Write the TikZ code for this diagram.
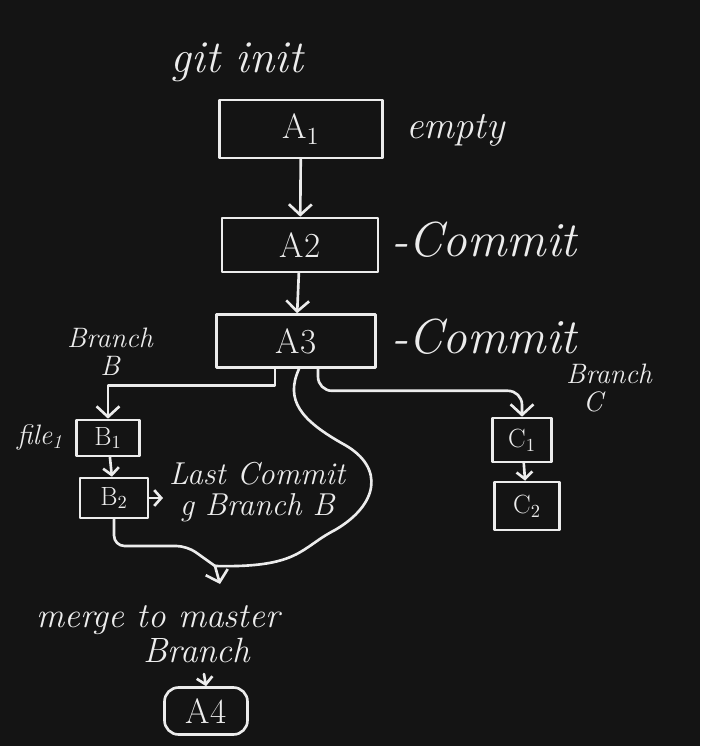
\documentclass[tikz,border=0pt]{standalone}
\usepackage{tikz}
\usetikzlibrary{arrows.meta}
\definecolor{boardbg}{RGB}{20,20,20}
\definecolor{chalk}{RGB}{236,236,236}
\tikzset{
  chalkline/.style={draw=chalk, line width=1.5pt, line cap=round, line join=round},
  link/.style={chalkline, -{Straight Barb[length=6pt,width=13pt]}},
  minilink/.style={chalkline, -{Straight Barb[length=4pt,width=9pt]}},
  commit/.style={chalkline, text=chalk, inner sep=0pt, font=\fontsize{20}{24}\selectfont},
  minicommit/.style={commit, font=\fontsize{15}{18}\selectfont},
  note/.style={text=chalk, font=\itshape\fontsize{#1}{#1}\selectfont},
  note/.default=20
}

\begin{document}
\begin{tikzpicture}[x=0.02cm, y=-0.02cm]
  % Draw the board
  \fill[boardbg] (0,0) rectangle (700,746);

  % Master branch
  \node[note=26] (gitinit) at (237,62) {git init};
  \node[commit, minimum width=3.26cm, minimum height=1.16cm] (A1) at (301,129) {A\textsubscript{1}};
  \node[commit, minimum width=3.12cm, minimum height=1.08cm] (A2) at (300,245) {A2};
  \node[commit, minimum width=3.18cm, minimum height=1.06cm] (A3) at (296,341) {A3};
  \node[note=22, anchor=west] (empty) at (400,130) {empty};
  \node[note=28, anchor=west] (commitA2) at (385,240) {-Commit};
  \node[note=28, anchor=west] (commitA3) at (385,337) {-Commit};
  \draw[link] (A1) -- (A2);
  \draw[link] (A2) -- (A3);

  % Branch B
  \node[note=16, align=center] (branchB) at (110,352) {Branch\\B};
  \node[minicommit, minimum width=1.26cm, minimum height=0.72cm] (B1) at (108,438) {B\textsubscript{1}};
  \node[minicommit, minimum width=1.36cm, minimum height=0.8cm] (B2) at (114,498) {B\textsubscript{2}};
  \node[note=16] (file) at (40,437) {file\textsubscript{1}};
  \node[note=18, align=center, anchor=west] (lastcommit) at (163,492) {Last Commit\\g Branch B};
  \draw[link] ([xshift=-0.42cm]A3.south) -- ++(0,17) -| (B1.north);
  \draw[minilink] (B1) -- (B2);
  \draw[minilink] (B2.east) -- (B2.east -| lastcommit.west);

  % Branch C
  \node[note=16, align=left, anchor=west] (branchC) at (560,388) {Branch\\\hspace*{0.6em}C};
  \node[minicommit, minimum width=1.18cm, minimum height=0.88cm] (C1) at (522,440) {C\textsubscript{1}};
  \node[minicommit, minimum width=1.3cm, minimum height=0.96cm] (C2) at (527,506) {C\textsubscript{2}};
  \draw[link, rounded corners=8pt] ([xshift=0.44cm]A3.south) -- ++(0,22) -| (C1.north);
  \draw[minilink] (C1) -- (C2);

  % Merge back to master
  \coordinate (join) at (215,566);
  \coordinate (merge) at (220,584);
  \draw[chalkline] ([xshift=0.06cm]A3.south) .. controls (285,400) and (300,420) .. (345,445)
    .. controls (385,468) and (378,505) .. (335,530)
    .. controls (300,548) and (300,568) .. (join);
  \draw[chalkline, rounded corners=6pt] (B2.south) |- (187,546) -- (join);
  \draw[link] (join) -- (merge);
  \node[note=20, align=center] (mergenote) at (158,634) {merge to master\\\hspace*{2.2em}Branch};
  \node[commit, rounded corners=8pt, minimum width=1.66cm, minimum height=0.94cm] (A4) at (206,711) {A4};
  \coordinate (tick) at (204,674);
  \draw[minilink] (tick) -- (A4.north);
\end{tikzpicture}
\end{document}
